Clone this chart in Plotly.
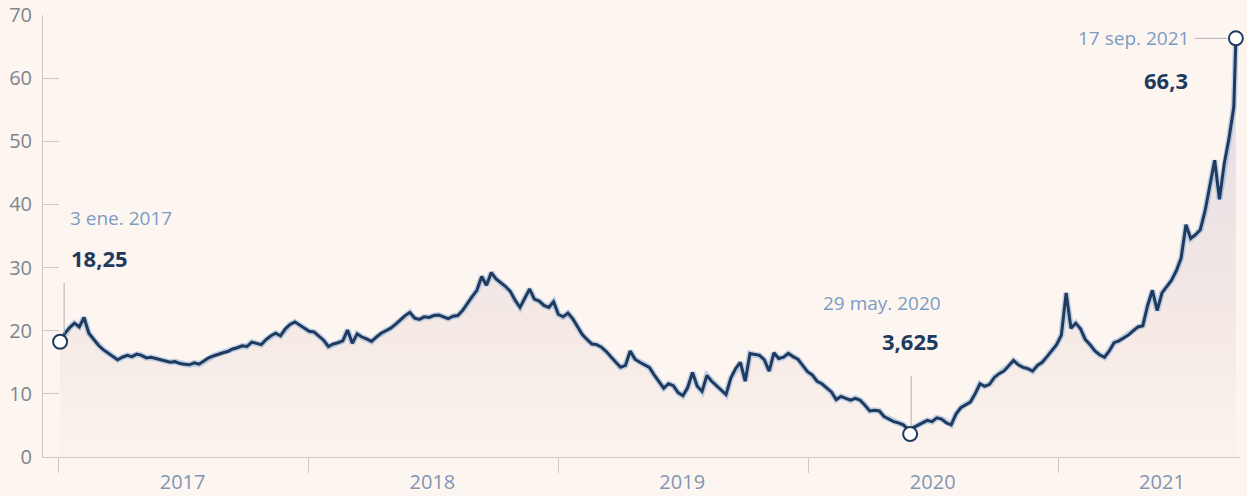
import pandas as pd
import plotly.graph_objects as go

# ---------------- data ----------------
START = "2017-01-03"          # first weekly observation
WEEKLY_VALUES = [
    18.25, 19.6, 20.5, 21.2, 20.6, 22.1, 19.6, 18.6, 17.7, 17.0,
    16.5, 16.0, 15.4, 15.8, 16.1, 15.9, 16.3, 16.1, 15.7, 15.8,
    15.6, 15.4, 15.2, 15.0, 15.1, 14.8, 14.7, 14.6, 14.9, 14.7,
    15.2, 15.7, 16.0, 16.3, 16.5, 16.7, 17.1, 17.3, 17.6, 17.5,
    18.2, 18.0, 17.8, 18.6, 19.2, 19.6, 19.2, 20.3, 21.0, 21.4,
    20.9, 20.3, 19.9, 19.8, 19.2, 18.5, 17.5, 17.9, 18.1, 18.4,
    20.1, 18.0, 19.5, 19.0, 18.7, 18.3, 19.0, 19.6, 20.0, 20.4,
    21.0, 21.7, 22.4, 22.9, 22.0, 21.8, 22.2, 22.1, 22.4, 22.5,
    22.2, 21.9, 22.3, 22.4, 23.2, 24.4, 25.4, 26.4, 28.6, 27.2,
    29.2, 28.2, 27.6, 27.0, 26.2, 24.8, 23.7, 25.2, 26.6, 25.0,
    24.7, 24.0, 23.7, 24.6, 22.6, 22.2, 22.8, 21.9, 20.6, 19.4,
    18.6, 17.9, 17.8, 17.4, 16.7, 15.8, 15.0, 14.2, 14.5, 16.8,
    15.5, 15.0, 14.6, 14.2, 13.0, 12.0, 10.9, 11.6, 11.3, 10.2,
    9.7, 11.0, 13.4, 11.2, 10.4, 12.9, 12.0, 11.3, 10.6, 9.9,
    12.5, 14.0, 15.0, 12.0, 16.4, 16.2, 16.1, 15.4, 13.6, 16.5,
    15.6, 15.8, 16.4, 15.9, 15.5, 14.5, 13.5, 13.0, 12.0, 11.6,
    11.0, 10.3, 9.1, 9.6, 9.3, 9.0, 9.3, 9.0, 8.2, 7.3,
    7.4, 7.3, 6.4, 6.0, 5.6, 5.4, 5.1, 4.4, 4.6, 5.0,
    5.3, 5.8, 5.6, 6.2, 6.0, 5.4, 5.1, 6.8, 7.8, 8.3,
    8.7, 10.0, 11.6, 11.2, 11.5, 12.6, 13.2, 13.6, 14.4, 15.3,
    14.6, 14.2, 14.0, 13.6, 14.5, 15.0, 15.9, 16.8, 17.8, 19.3,
    26.0, 20.4, 21.2, 20.3, 18.6, 17.8, 16.8, 16.2, 15.8, 16.8,
    18.1, 18.4, 18.9, 19.3, 20.0, 20.6, 20.8, 24.0, 26.4, 23.2,
    26.0, 27.0, 28.0, 29.5, 31.5, 36.8, 34.6, 35.2, 36.0, 39.0,
    42.8, 47.0, 40.8, 46.5, 50.5, 55.5,
]

KEY_DATES = ["2017-01-03", "2020-05-29", "2021-09-17"]
KEY_VALUES = [18.25, 3.625, 66.3]
KEY_DATE_LABELS = ["3 ene. 2017", "29 may. 2020", "17 sep. 2021"]
KEY_VALUE_LABELS = ["18,25", "3,625", "66,3"]

YEAR_BOUNDARIES = ["2017-01-01", "2018-01-01", "2019-01-01", "2020-01-01", "2021-01-01"]
YEAR_LABEL_DATES = ["2017-07-01", "2018-07-01", "2019-07-01", "2020-07-01", "2021-06-01"]
YEAR_LABELS = ["2017", "2018", "2019", "2020", "2021"]
Y_TICKS = [0, 10, 20, 30, 40, 50, 60, 70]

# ---------------- build series ----------------
dates = pd.date_range(START, periods=len(WEEKLY_VALUES), freq="7D")
s = pd.Series(WEEKLY_VALUES, index=dates)
for d, v in zip(KEY_DATES, KEY_VALUES):
    s[pd.Timestamp(d)] = v
s = s.sort_index()

BG = "#fdf5ef"
NAVY = "#1e3a5f"
AXIS = "#cfc9c5"
FONT = "Open Sans, Noto Sans, sans-serif"

fig = go.Figure()
fig.add_trace(go.Scatter(
    x=s.index, y=s.values, mode="lines", line=dict(width=0),
    fill="tozeroy",
    fillgradient=dict(type="vertical", start=0, stop=70,
                      colorscale=[[0, "rgba(252,243,238,1)"], [0.3, "rgba(244,233,229,1)"],
                                  [1, "rgba(222,218,226,1)"]]),
    hoverinfo="skip", showlegend=False))
fig.add_trace(go.Scatter(x=s.index, y=s.values, mode="lines",
                         line=dict(color="rgba(120,165,215,0.45)", width=6),
                         hoverinfo="skip", showlegend=False))
fig.add_trace(go.Scatter(x=s.index, y=s.values, mode="lines",
                         line=dict(color=NAVY, width=3), showlegend=False))
fig.add_trace(go.Scatter(x=KEY_DATES, y=KEY_VALUES, mode="markers", cliponaxis=False,
                         marker=dict(size=14, color="#ffffff", line=dict(color=NAVY, width=2)),
                         showlegend=False))

LEAD = dict(color="#aeb0b6", width=1)
# start leader (vertical, above marker)
fig.add_shape(type="line", xref="x", yref="y", xsizemode="pixel", ysizemode="pixel",
              xanchor=KEY_DATES[0], yanchor=KEY_VALUES[0], x0=4, x1=4, y0=8, y1=59, line=LEAD)
# min leader (vertical, above marker)
fig.add_shape(type="line", xref="x", yref="y", xsizemode="pixel", ysizemode="pixel",
              xanchor=KEY_DATES[1], yanchor=KEY_VALUES[1], x0=1, x1=1, y0=8, y1=58, line=LEAD)
# end leader (horizontal, left of marker)
fig.add_shape(type="line", xref="x", yref="y", xsizemode="pixel", ysizemode="pixel",
              xanchor=KEY_DATES[2], yanchor=KEY_VALUES[2], x0=-41, x1=-9, y0=0, y1=0, line=LEAD)

DATE_COLOR = "#7b9cc4"
# (xanchor, date xshift, date yshift, value xshift, value yshift)
placements = [("left", 8, 124, 9, 84), ("right", 33, 131, 31, 93), ("right", -45, 0, -46, -42)]
for d, v, dl, vl, (anc, dx, dy, vx, vy) in zip(KEY_DATES, KEY_VALUES, KEY_DATE_LABELS,
                                                KEY_VALUE_LABELS, placements):
    fig.add_annotation(x=d, y=v, text=dl, showarrow=False, xanchor=anc, yanchor="middle",
                       xshift=dx, yshift=dy, font=dict(family=FONT, size=19, color=DATE_COLOR))
    fig.add_annotation(x=d, y=v, text="<b>" + vl + "</b>", showarrow=False, xanchor=anc,
                       yanchor="middle", xshift=vx, yshift=vy,
                       font=dict(family=FONT, size=22, color=NAVY))

fig.update_layout(
    width=1247, height=496,
    margin=dict(l=43, r=7, t=15, b=39),
    paper_bgcolor=BG, plot_bgcolor=BG,
    showlegend=False,
    font=dict(family=FONT),
    xaxis=dict(type="date", range=["2016-12-09", "2021-09-23"], automargin=False,
               showline=True, linecolor=AXIS, linewidth=1, showgrid=False, zeroline=False,
               tickmode="array", tickvals=YEAR_LABEL_DATES, ticktext=YEAR_LABELS, ticks="",
               ticklabelstandoff=7,
               tickfont=dict(family=FONT, size=20, color="#8296b4"),
               minor=dict(tickmode="array", tickvals=YEAR_BOUNDARIES, ticks="outside",
                          ticklen=15, tickwidth=1, tickcolor=AXIS, showgrid=False)),
    yaxis=dict(range=[0, 70], tickvals=Y_TICKS, showline=True, linecolor=AXIS, linewidth=1,
               automargin=False,
               showgrid=False, zeroline=False, ticks="inside", ticklen=16, tickcolor=AXIS,
               ticklabelstandoff=6,
               tickfont=dict(family=FONT, size=20, color="#80858d")),
)

fig.write_html(
    "out.html",
    config={"displayModeBar": False},
    post_script="document.body.style.margin='0';document.body.style.background='" + BG + "';",
)
